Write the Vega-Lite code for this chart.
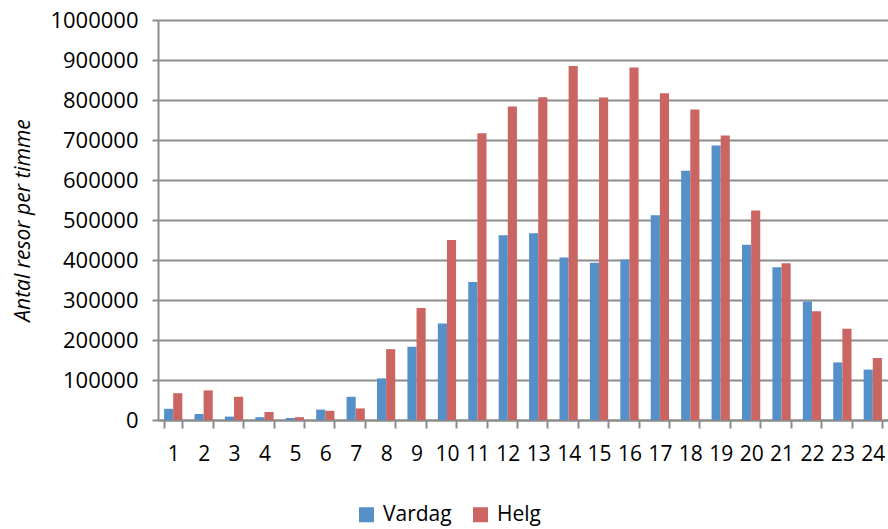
{
  "$schema": "https://vega.github.io/schema/vega-lite/v6.json",
  "width": 730,
  "height": 400,
  "autosize": {"type": "none"},
  "padding": {"left": 158, "top": 20, "right": 0, "bottom": 109},
  "background": "white",
  "config": {
    "view": {"stroke": null},
    "font": "Open Sans",
    "axis": {"labelFont": "Open Sans", "titleFont": "Open Sans"}
  },
  "data": {
    "values": [
      {"timme": 1, "typ": "Vardag", "resor": 28000}, {"timme": 1, "typ": "Helg", "resor": 67000},
      {"timme": 2, "typ": "Vardag", "resor": 15000}, {"timme": 2, "typ": "Helg", "resor": 74000},
      {"timme": 3, "typ": "Vardag", "resor": 8500}, {"timme": 3, "typ": "Helg", "resor": 58000},
      {"timme": 4, "typ": "Vardag", "resor": 7000}, {"timme": 4, "typ": "Helg", "resor": 20000},
      {"timme": 5, "typ": "Vardag", "resor": 5000}, {"timme": 5, "typ": "Helg", "resor": 7000},
      {"timme": 6, "typ": "Vardag", "resor": 26000}, {"timme": 6, "typ": "Helg", "resor": 23000},
      {"timme": 7, "typ": "Vardag", "resor": 58000}, {"timme": 7, "typ": "Helg", "resor": 29000},
      {"timme": 8, "typ": "Vardag", "resor": 104000}, {"timme": 8, "typ": "Helg", "resor": 177000},
      {"timme": 9, "typ": "Vardag", "resor": 183000}, {"timme": 9, "typ": "Helg", "resor": 280000},
      {"timme": 10, "typ": "Vardag", "resor": 241000}, {"timme": 10, "typ": "Helg", "resor": 450000},
      {"timme": 11, "typ": "Vardag", "resor": 345000}, {"timme": 11, "typ": "Helg", "resor": 717000},
      {"timme": 12, "typ": "Vardag", "resor": 462000}, {"timme": 12, "typ": "Helg", "resor": 784000},
      {"timme": 13, "typ": "Vardag", "resor": 467000}, {"timme": 13, "typ": "Helg", "resor": 807000},
      {"timme": 14, "typ": "Vardag", "resor": 406000}, {"timme": 14, "typ": "Helg", "resor": 885000},
      {"timme": 15, "typ": "Vardag", "resor": 393000}, {"timme": 15, "typ": "Helg", "resor": 806000},
      {"timme": 16, "typ": "Vardag", "resor": 401000}, {"timme": 16, "typ": "Helg", "resor": 881000},
      {"timme": 17, "typ": "Vardag", "resor": 512000}, {"timme": 17, "typ": "Helg", "resor": 817000},
      {"timme": 18, "typ": "Vardag", "resor": 623000}, {"timme": 18, "typ": "Helg", "resor": 776000},
      {"timme": 19, "typ": "Vardag", "resor": 686000}, {"timme": 19, "typ": "Helg", "resor": 711000},
      {"timme": 20, "typ": "Vardag", "resor": 438000}, {"timme": 20, "typ": "Helg", "resor": 524000},
      {"timme": 21, "typ": "Vardag", "resor": 382000}, {"timme": 21, "typ": "Helg", "resor": 392000},
      {"timme": 22, "typ": "Vardag", "resor": 296000}, {"timme": 22, "typ": "Helg", "resor": 272000},
      {"timme": 23, "typ": "Vardag", "resor": 144000}, {"timme": 23, "typ": "Helg", "resor": 228000},
      {"timme": 24, "typ": "Vardag", "resor": 126000}, {"timme": 24, "typ": "Helg", "resor": 155000}
    ]
  },
  "mark": {"type": "bar"},
  "encoding": {
    "x": {
      "field": "timme",
      "type": "ordinal",
      "scale": {"paddingInner": 0.4, "paddingOuter": 0.2},
      "axis": {
        "title": null,
        "labelAngle": 0,
        "labelFontSize": 21,
        "labelColor": "#000000",
        "labelPadding": 15,
        "tickBand": "extent",
        "tickSize": 8,
        "tickColor": "#8c8c8c",
        "tickWidth": 2,
        "domainColor": "#8c8c8c",
        "domainWidth": 2
      }
    },
    "xOffset": {"field": "typ", "type": "nominal", "sort": ["Vardag", "Helg"], "scale": {"paddingInner": 0, "paddingOuter": 0}},
    "y": {
      "field": "resor",
      "type": "quantitative",
      "scale": {"domain": [0, 1000000], "nice": false},
      "axis": {
        "title": "Antal resor per timme",
        "titleFontStyle": "italic",
        "titleFontWeight": "normal",
        "titleFontSize": 21,
        "titleColor": "#000000",
        "titlePadding": 16,
        "values": [0, 100000, 200000, 300000, 400000, 500000, 600000, 700000, 800000, 900000, 1000000],
        "format": "d",
        "labelFontSize": 22,
        "labelColor": "#000000",
        "labelPadding": 14,
        "tickSize": 6,
        "tickColor": "#8c8c8c",
        "tickWidth": 2,
        "domainColor": "#8c8c8c",
        "domainWidth": 2,
        "grid": true,
        "gridColor": "#8c8c8c",
        "gridWidth": 2
      }
    },
    "color": {
      "field": "typ",
      "type": "nominal",
      "sort": ["Vardag", "Helg"],
      "scale": {"domain": ["Vardag", "Helg"], "range": ["#5590c9", "#cb6561"]},
      "legend": {
        "title": null,
        "orient": "none",
        "legendX": 198,
        "legendY": 484,
        "direction": "horizontal",
        "symbolType": "square",
        "symbolSize": 225,
        "symbolStrokeWidth": 0,
        "labelFontSize": 21,
        "labelColor": "#000000",
        "columnPadding": 18,
        "labelOffset": 6
      }
    }
  }
}
